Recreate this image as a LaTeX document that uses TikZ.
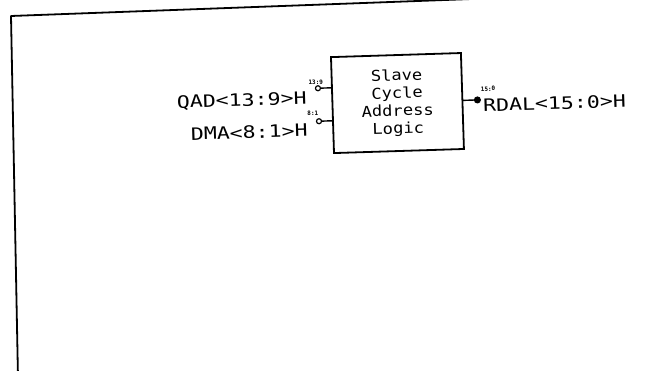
\documentclass[tikz,border=0pt]{standalone}
\usepackage{fontspec}
\newfontfamily\plotfont[FakeStretch=1.26]{DejaVu Sans Mono}
\newfontfamily\boxfont[FakeStretch=1.14]{DejaVu Sans Mono}
\newfontfamily\pinfont{DejaVu Sans Mono}
\begin{document}
\begin{tikzpicture}[x=1pt,y=-1pt,
  wire/.style={line width=1.4pt},
  frameline/.style={line width=1.8pt, line cap=round, line join=round},
  lbl/.style={font=\plotfont\fontsize{17.1}{20}\selectfont, inner sep=0pt},
  pinno/.style={font=\pinfont\bfseries\fontsize{6}{6.5}\selectfont, inner sep=0pt},
  bubble/.style={circle, draw, line width=1.2pt, minimum size=5pt, inner sep=0pt},
  dotpin/.style={circle, draw, fill, line width=1pt, minimum size=6pt, inner sep=0pt},
  logicbox/.style={draw, line width=1.8pt, minimum width=130pt, minimum height=96pt,
    inner sep=0pt, align=center, font=\boxfont\fontsize{15}{17.7}\selectfont}
]
\useasboundingbox (0,0) rectangle (654,371);
\clip (0,0) rectangle (654,371);
\draw[frameline] (18,378) -- (11,16) -- (472,-1);
\begin{scope}[rotate around={1.8:(327,185)}, transform shape]
  \node[logicbox] (logic) at (400,105.3) {Slave\\Cycle\\Address\\Logic};
  % pins
  \node[bubble] (qadpin) at (321,88) {};
  \node[bubble] (dmapin) at (321,121) {};
  \node[dotpin] (rdalpin) at (480,104.7) {};
  \coordinate (qadin) at (335,88);
  \coordinate (dmain) at (335,121);
  \coordinate (rdalout) at (465,104.7);
  \draw[wire] (qadpin) -- (qadin);
  \draw[wire] (dmapin) -- (dmain);
  \draw[wire] (rdalout) -- (rdalpin);
  % labels
  \node[lbl, anchor=base east] (qad) at (309.5,103.4) {QAD<13:9>H};
  \node[lbl, anchor=base east] (dma) at (309.5,136) {DMA<8:1>H};
  \node[lbl, anchor=base west] (rdal) at (485.4,116.4) {RDAL<15:0>H};
  % pin numbers
  \node[pinno] (qadno) at (319,82) {13:9};
  \node[pinno] (dmano) at (315,113) {8:1};
  \node[pinno] (rdalno) at (491,94) {15:0};
\end{scope}
\end{tikzpicture}
\end{document}
